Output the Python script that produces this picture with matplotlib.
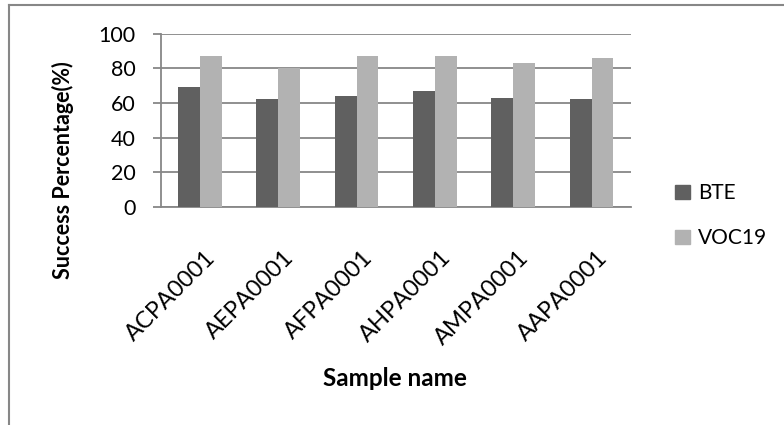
import numpy as np
import matplotlib
matplotlib.use("Agg")
import matplotlib.pyplot as plt
import matplotlib.transforms as mtransforms
from matplotlib.lines import Line2D
from matplotlib.patches import Patch

plt.rcParams['font.family'] = ['Lato', 'DejaVu Sans']

samples = ['ACPA0001', 'AEPA0001', 'AFPA0001', 'AHPA0001', 'AMPA0001', 'AAPA0001']
bte = [69, 62, 64, 67, 63, 62]
voc19 = [87, 80, 87, 87, 83, 86]
series_names = ['BTE', 'VOC19']
series_colors = ['#606060', '#b2b2b2']
grid_color = '#878787'

fig = plt.figure(figsize=(7.84, 4.25), dpi=100)
ax = fig.add_axes([0.205, 0.5136, 0.5995, 0.4071])

x = np.arange(len(samples))
w = 0.28
ax.bar(x - w / 2, bte, w, color=series_colors[0], zorder=3)
ax.bar(x + w / 2, voc19, w, color=series_colors[1], zorder=3)

ax.set_xlim(-0.5, len(samples) - 0.5)
ax.set_ylim(0, 100)
ax.set_yticks(np.arange(0, 101, 20))
ax.yaxis.grid(True, color=grid_color, linewidth=1.3, zorder=0)
ax.set_axisbelow(True)
for s in ['top', 'right']:
    ax.spines[s].set_visible(False)
ax.spines['left'].set_color(grid_color)
ax.spines['left'].set_linewidth(1.3)
ax.spines['bottom'].set_color(grid_color)
ax.spines['bottom'].set_linewidth(1.3)
ax.tick_params(axis='y', direction='out', length=6, width=1.3, color=grid_color,
               labelsize=15.5, pad=12)
ax.tick_params(axis='x', length=0, labelsize=17, pad=29)
ax.set_xticks(x)
ax.set_xticklabels(samples, rotation=45, ha='right', rotation_mode='anchor')
shift = mtransforms.ScaledTranslation(5 / 100, 0, fig.dpi_scale_trans)
for lab in ax.get_xticklabels():
    lab.set_transform(lab.get_transform() + shift)

fig.text(0.08, 0.60, 'Success Percentage(%)', rotation=90, fontsize=15.5,
         fontweight='bold', ha='center', va='center')
fig.text(0.504, 0.11, 'Sample name', fontsize=17.5, fontweight='bold',
         ha='center', va='center')

handles = [Patch(color=c) for c in series_colors]
fig.legend(handles, series_names, loc='center left', bbox_to_anchor=(0.848, 0.492),
           frameon=False, fontsize=15, handlelength=0.7, handleheight=0.7,
           handletextpad=0.4, labelspacing=1.2, borderpad=0)

# chart area border (left and top edges visible)
fig.add_artist(Line2D([9 / 784, 9 / 784], [0, 1 - 5 / 425], color=grid_color,
                      linewidth=1.5, transform=fig.transFigure))
fig.add_artist(Line2D([9 / 784, 1], [1 - 5 / 425, 1 - 5 / 425], color=grid_color,
                      linewidth=1.5, transform=fig.transFigure))

fig.savefig('out.png', dpi=100)
